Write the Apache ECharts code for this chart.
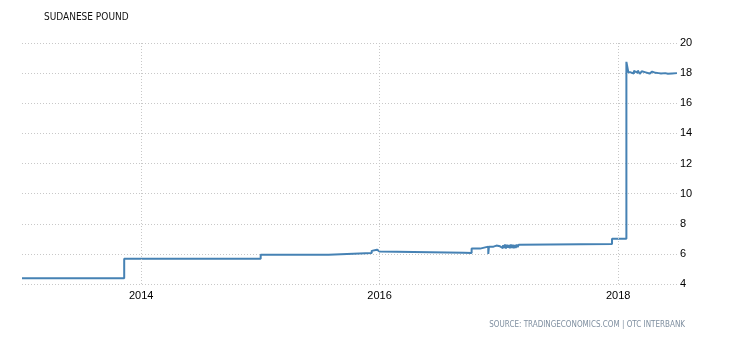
<!DOCTYPE html>
<html>
<head>
<meta charset="utf-8">
<script src="https://cdn.jsdelivr.net/npm/echarts@6/dist/echarts.min.js"></script>
<style>
html,body{margin:0;padding:0;background:#fff;}
#chart{width:730px;height:340px;}
</style>
</head>
<body>
<div id="chart"></div>
<script>
// ---- data ----
const titleText = 'SUDANESE POUND';
const sourceText = 'SOURCE: TRADINGECONOMICS.COM | OTC INTERBANK';
const dates = [
  '2013-01-01','2013-11-10','2015-01-02','2015-07-29','2015-12-08','2015-12-14','2015-12-24','2016-01-02',
  '2016-09-15','2016-09-19','2016-10-09','2016-11-04','2016-11-29','2016-12-01','2016-12-15','2016-12-24',
  '2017-01-04','2017-01-07','2017-01-10','2017-01-13','2017-01-16','2017-01-19','2017-01-22','2017-01-25',
  '2017-01-28','2017-01-31','2017-02-03','2017-02-06','2017-02-09','2017-02-12','2017-02-15','2017-02-18',
  '2017-02-21','2017-02-24','2017-02-27','2017-03-02','2017-03-07','2017-12-13','2018-01-26','2018-02-01',
  '2018-02-08','2018-02-12','2018-02-18','2018-02-24','2018-03-02','2018-03-08','2018-03-14','2018-03-20',
  '2018-03-26','2018-04-01','2018-04-07','2018-04-15','2018-04-25','2018-05-05','2018-05-12','2018-05-16',
  '2018-05-25','2018-06-02','2018-06-05','2018-06-15','2018-06-30'
];
const rates = [
  4.38, 5.68, 5.95, 6.06, 6.20, 6.28, 6.15, 6.08,
  6.12, 6.06, 6.35, 6.48, 6.00, 6.48, 6.55, 6.50,
  6.40, 6.60, 6.38, 6.58, 6.40, 6.62, 6.36, 6.60,
  6.42, 6.58, 6.38, 6.62, 6.40, 6.60, 6.38, 6.58,
  6.40, 6.62, 6.45, 6.60, 6.66, 7.00, 18.75, 18.05,
  18.10, 17.98, 18.15, 18.02, 18.18, 17.95, 18.12, 18.05,
  18.16, 17.97, 18.10, 18.02, 18.00, 17.98, 17.90, 18.00,
  17.96, 17.88, 17.98, 18.00, 17.98
];
const xMin = '2013-01-01';
const xMax = '2018-06-30';
const yMin = 4, yMax = 20, yStep = 2;
const labelYears = [2014, 2016, 2018];

// ---- chart ----
const seriesData = dates.map((d, i) => [d, rates[i]]);
const chart = echarts.init(document.getElementById('chart'), null, {renderer: 'canvas'});
const gridColor = '#c8c8c8';
chart.setOption({
  animation: false,
  backgroundColor: '#ffffff',
  grid: {left: 22, right: 53, top: 43, bottom: 56, containLabel: false},
  graphic: [
    {type: 'text', left: 44, top: 12,
     style: {text: titleText, fill: '#111111', font: '10px "DejaVu Sans Condensed", "Liberation Sans Narrow", "DejaVu Sans", sans-serif'}},
    {type: 'text', right: 45, top: 321,
     style: {text: sourceText, fill: '#7f8fa0', font: '8px "DejaVu Sans Condensed", "Liberation Sans Narrow", "DejaVu Sans", sans-serif'}}
  ],
  xAxis: {
    type: 'time',
    min: xMin,
    max: xMax,
    axisLine: {show: false},
    axisTick: {show: false},
    splitLine: {show: false},
    axisLabel: {
      margin: 6,
      color: '#000000',
      fontSize: 11,
      fontFamily: '"Liberation Sans", Arial, sans-serif',
      hideOverlap: false,
      formatter: function (v) {
        const d = new Date(v);
        if (d.getMonth() === 0 && d.getDate() === 1 && labelYears.indexOf(d.getFullYear()) >= 0) {
          return String(d.getFullYear());
        }
        return '';
      }
    }
  },
  yAxis: {
    type: 'value',
    position: 'right',
    min: yMin,
    max: yMax,
    interval: yStep,
    axisLine: {show: false},
    axisTick: {show: false},
    axisLabel: {margin: 3, color: '#000000', fontSize: 11, fontFamily: '"Liberation Sans", Arial, sans-serif'},
    splitLine: {show: true, lineStyle: {color: gridColor, type: [1, 2], width: 1}}
  },
  series: [{
    type: 'line',
    step: 'end',
    data: seriesData,
    showSymbol: false,
    symbol: 'none',
    lineStyle: {color: '#4682b4', width: 2},
    itemStyle: {color: '#4682b4'},
    markLine: {
      silent: true,
      symbol: 'none',
      label: {show: false},
      lineStyle: {color: gridColor, type: [1, 2], width: 1},
      data: labelYears.map(y => ({xAxis: new Date(y, 0, 1).getTime()}))
    },
    z: 3
  }]
});
</script>
</body>
</html>
